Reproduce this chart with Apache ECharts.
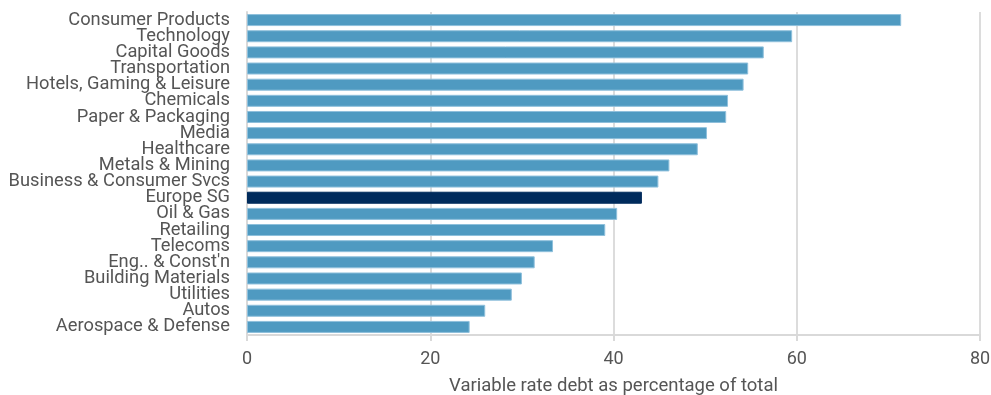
<!DOCTYPE html>
<html><head><meta charset="utf-8">
<script src="https://cdn.jsdelivr.net/npm/echarts@6/dist/echarts.min.js"></script>
<style>html,body{margin:0;padding:0;background:#fff}#c{width:991px;height:395px}</style>
</head><body><div id="c"></div>
<script>
const categories = ["Consumer Products","Technology","Capital Goods","Transportation","Hotels, Gaming & Leisure","Chemicals","Paper & Packaging","Media","Healthcare","Metals & Mining","Business & Consumer Svcs","Europe SG","Oil & Gas","Retailing","Telecoms","Eng.. & Const'n","Building Materials","Utilities","Autos","Aerospace & Defense"];
const values = [71.4,59.5,56.4,54.7,54.2,52.5,52.3,50.2,49.2,46.1,44.9,43.1,40.4,39.1,33.4,31.4,30.0,28.9,26.0,24.3];
const highlight = "Europe SG";
const xTicks = [0,20,40,60,80];
const axisTitle = "Variable rate debt as percentage of total";

const chart = echarts.init(document.getElementById('c'), null, {renderer:'canvas'});
const font = 'Roboto, "Noto Sans", sans-serif';
chart.setOption({
  animation:false,
  grid:{left:247,width:733,top:12,height:323,containLabel:false,outerBoundsMode:'none'},
  xAxis:{type:'value',min:xTicks[0],max:xTicks[xTicks.length-1],interval:20,
    name:axisTitle,nameLocation:'middle',nameGap:42,
    nameTextStyle:{color:'#555',fontSize:18.5,fontFamily:font},
    axisLine:{show:true,lineStyle:{color:'#d9d9d9',width:2}},
    axisTick:{show:true,length:6,lineStyle:{color:'#d9d9d9',width:2}},
    axisLabel:{color:'#555',fontSize:18,fontFamily:font,margin:15},
    splitLine:{show:true,lineStyle:{color:'#dcdcdc',width:2}}},
  yAxis:{type:'category',data:categories,inverse:true,
    axisLine:{show:true,lineStyle:{color:'#d9d9d9',width:2}},
    axisTick:{show:false},
    axisLabel:{color:'#555',fontSize:18.3,fontFamily:font,margin:17,interval:0}},
  series:[{type:'bar',barWidth:12,
    data:values.map((v,i)=>({value:v,itemStyle:{color:categories[i]===highlight?'#002b5c':'#4f9ac1',
      borderColor:categories[i]===highlight?'#002b5c':'#8fc0dc',borderWidth:1}}))}]
});
</script></body></html>
